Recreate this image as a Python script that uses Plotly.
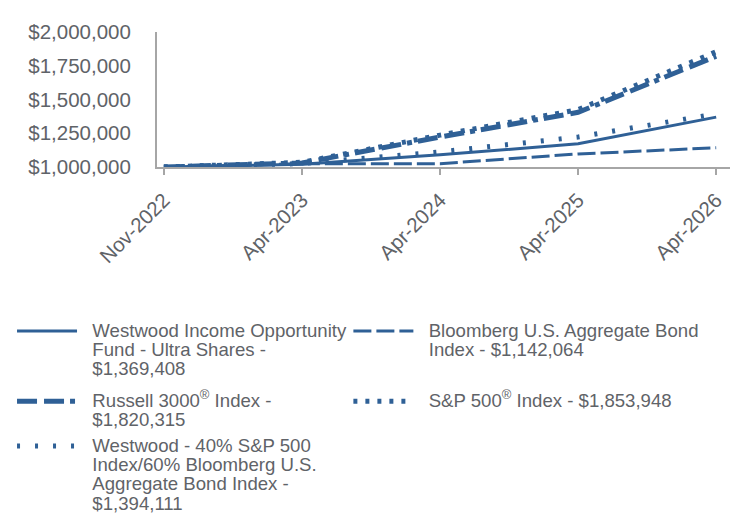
import plotly.graph_objects as go

categories = ["Nov-2022", "Apr-2023", "Apr-2024", "Apr-2025", "Apr-2026"]

fund = [1000000, 1020000, 1090000, 1172000, 1369408]
bloomberg = [1000000, 1025000, 1025000, 1097000, 1142064]
russell = [1000000, 1030000, 1222000, 1405000, 1820315]
sp500 = [1000000, 1035000, 1236000, 1425000, 1853948]
blend = [1000000, 1025000, 1112000, 1222000, 1394111]

name_lines = [
    ["Westwood Income Opportunity", "Fund - Ultra Shares -", "$1,369,408"],
    ["Bloomberg U.S. Aggregate Bond", "Index - $1,142,064"],
    ["Russell 3000<sup>®</sup> Index -", "$1,820,315"],
    ["S&P 500<sup>®</sup> Index - $1,853,948"],
    ["Westwood - 40% S&P 500", "Index/60% Bloomberg U.S.", "Aggregate Bond Index -", "$1,394,111"],
]

color = "#2f6096"
gray = "#5f6368"
font_family = "Liberation Sans, Arial, sans-serif"
LEG_SIZE = 18.6
LEG_BASE = 14.8


def legend_name(lines):
    return "<br>".join(
        '<span style="font-size:%spx">\u00a0\u00a0%s</span>' % (LEG_SIZE, l) for l in lines
    )


series = [fund, bloomberg, russell, sp500, blend]
styles = [
    dict(width=3, dash="solid"),
    dict(width=3, dash="18px,5px"),
    dict(width=5, dash="20px,7px,20px,6px,5px,6px"),
    dict(width=5, dash="4px,8px"),
    dict(width=5, dash="3px,15px"),
]
legend_ids = ["legend", "legend2", "legend3", "legend4", "legend5"]
# legend placement (paper coords): column x, row y
legend_pos = [
    (-0.253, -1.096),
    (0.334, -1.096),
    (-0.253, -1.615),
    (0.334, -1.615),
    (-0.253, -1.948),
]

fig = go.Figure()
for vals, lines, st, lid in zip(series, name_lines, styles, legend_ids):
    fig.add_trace(go.Scatter(
        x=categories, y=vals, mode="lines", name=legend_name(lines),
        legend=lid,
        line=dict(color=color, width=st["width"], dash=st["dash"]),
    ))

legend_layout = {}
for lid, (lx, ly) in zip(legend_ids, legend_pos):
    legend_layout[lid] = dict(
        x=lx, y=ly, xanchor="left", yanchor="top",
        itemwidth=60, valign="top",
        bgcolor="rgba(0,0,0,0)",
        font=dict(family=font_family, size=LEG_BASE, color=gray),
        itemclick=False, itemdoubleclick=False,
    )

fig.update_layout(
    width=744, height=516,
    margin=dict(l=157, r=14, t=32, b=349, autoexpand=False),
    paper_bgcolor="white", plot_bgcolor="white",
    font=dict(family=font_family, color=gray, size=20.5),
    showlegend=True,
    xaxis=dict(
        type="category", range=[-0.05, 4.1],
        showline=True, linecolor="#a6a6a6", linewidth=2,
        ticks="outside", ticklen=6, tickcolor="#a6a6a6", tickwidth=2,
        tickangle=-45, showgrid=False, zeroline=False,
        ticklabelstandoff=5,
        tickfont=dict(size=20.5, color=gray),
    ),
    yaxis=dict(
        range=[1000000, 2000000],
        tickvals=[1000000, 1250000, 1500000, 1750000, 2000000],
        tickformat="$,.0f",
        showline=True, linecolor="#a6a6a6", linewidth=2,
        ticks="", showgrid=False, zeroline=False,
        ticklabelstandoff=20,
        tickfont=dict(size=20.5, color=gray),
    ),
    **legend_layout,
)

fig.write_html("out.html")
